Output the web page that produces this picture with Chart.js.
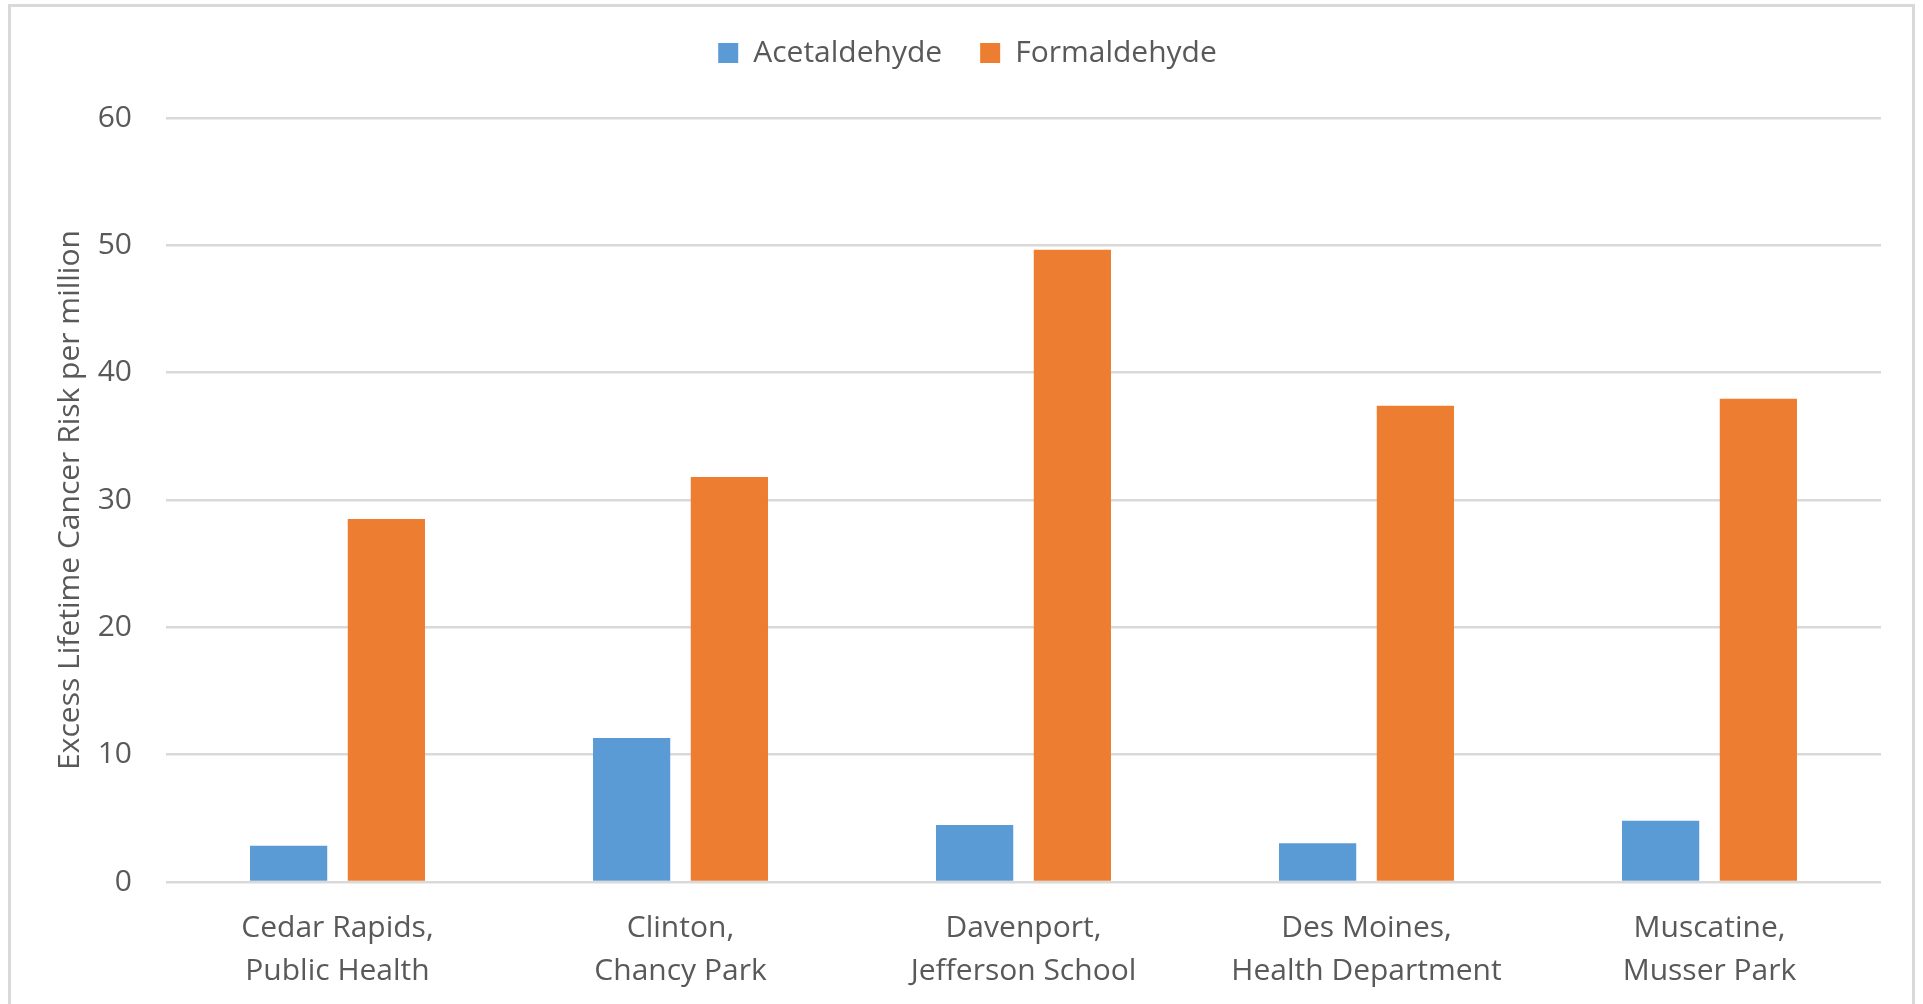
<!DOCTYPE html>
<html>
<head>
<meta charset="utf-8">
<script src="https://cdn.jsdelivr.net/npm/chart.js@4"></script>
<style>
    body { margin: 0; background: #fff; overflow: hidden; }
    #frame { position: absolute; left: 8px; top: 4px; width: 1901px; height: 1100px; border: 3px solid #D9D9D9; }
    #myChart { position: absolute; left: 0; top: 0; }
</style>
</head>
<body>
<div id="frame"></div>
<canvas id="myChart" width="1923" height="1004"></canvas>
<script>
const sites = [
    ["Cedar Rapids,", "Public Health"],
    ["Clinton,", "Chancy Park"],
    ["Davenport,", "Jefferson School"],
    ["Des Moines,", "Health Department"],
    ["Muscatine,", "Musser Park"]
]
const acetaldehyde = [2.85, 11.3, 4.48, 3.04, 4.82]
const formaldehyde = [28.5, 31.8, 49.65, 37.4, 37.95]
const yTicks = [0, 10, 20, 30, 40, 50, 60]

Chart.defaults.font.family = "'Open Sans', 'Noto Sans', sans-serif"
Chart.defaults.font.size = 30
Chart.defaults.color = "#595959"

// legend takes the whole band above the plot, nudged right a little
const legendBand = {
    id: 'legendBand',
    beforeInit(chart) {
        const fit = chart.legend.fit
        chart.legend.fit = function () {
            fit.call(this)
            this.height = 118
        }
    },
    afterLayout(chart) {
        chart.legend.left += 27
        chart.legend.right += 27
    }
}

const ctx = document.getElementById('myChart')
new Chart(ctx, {
    type: 'bar',
    data: {
        labels: sites,
        datasets: [
            {
                label: 'Acetaldehyde',
                data: acetaldehyde,
                backgroundColor: '#5B9BD5',
                categoryPercentage: 0.57,
                barPercentage: 0.79
            },
            {
                label: 'Formaldehyde',
                data: formaldehyde,
                backgroundColor: '#ED7D31',
                categoryPercentage: 0.57,
                barPercentage: 0.79
            }
        ]
    },
    options: {
        responsive: false,
        animation: false,
        devicePixelRatio: 1,
        layout: { padding: { left: 0, right: 42, top: 0, bottom: 0 } },
        plugins: {
            legend: {
                position: 'top',
                labels: {
                    boxWidth: 20,
                    boxHeight: 20,
                    padding: 38,
                    font: { size: 30 }
                }
            },
            tooltip: { enabled: false }
        },
        scales: {
            x: {
                grid: { display: false },
                border: { display: false },
                ticks: {
                    padding: 17,
                    maxRotation: 0,
                    autoSkip: false,
                    font: { size: 30, lineHeight: 1.43 }
                },
                afterFit: (scale) => { scale.height = 122 }
            },
            y: {
                min: 0,
                max: 60,
                afterBuildTicks: (scale) => { scale.ticks = yTicks.map(v => ({ value: v })) },
                grid: { color: '#D9D9D9', lineWidth: 2.5, drawTicks: false },
                border: { display: false },
                ticks: { padding: 34, font: { size: 30 } },
                title: {
                    display: true,
                    text: 'Excess Lifetime Cancer Risk per million',
                    font: { size: 30 },
                    padding: { top: 52, bottom: 0 }
                },
                afterFit: (scale) => { scale.width = 166 }
            }
        }
    },
    plugins: [legendBand]
})
</script>
</body>
</html>
